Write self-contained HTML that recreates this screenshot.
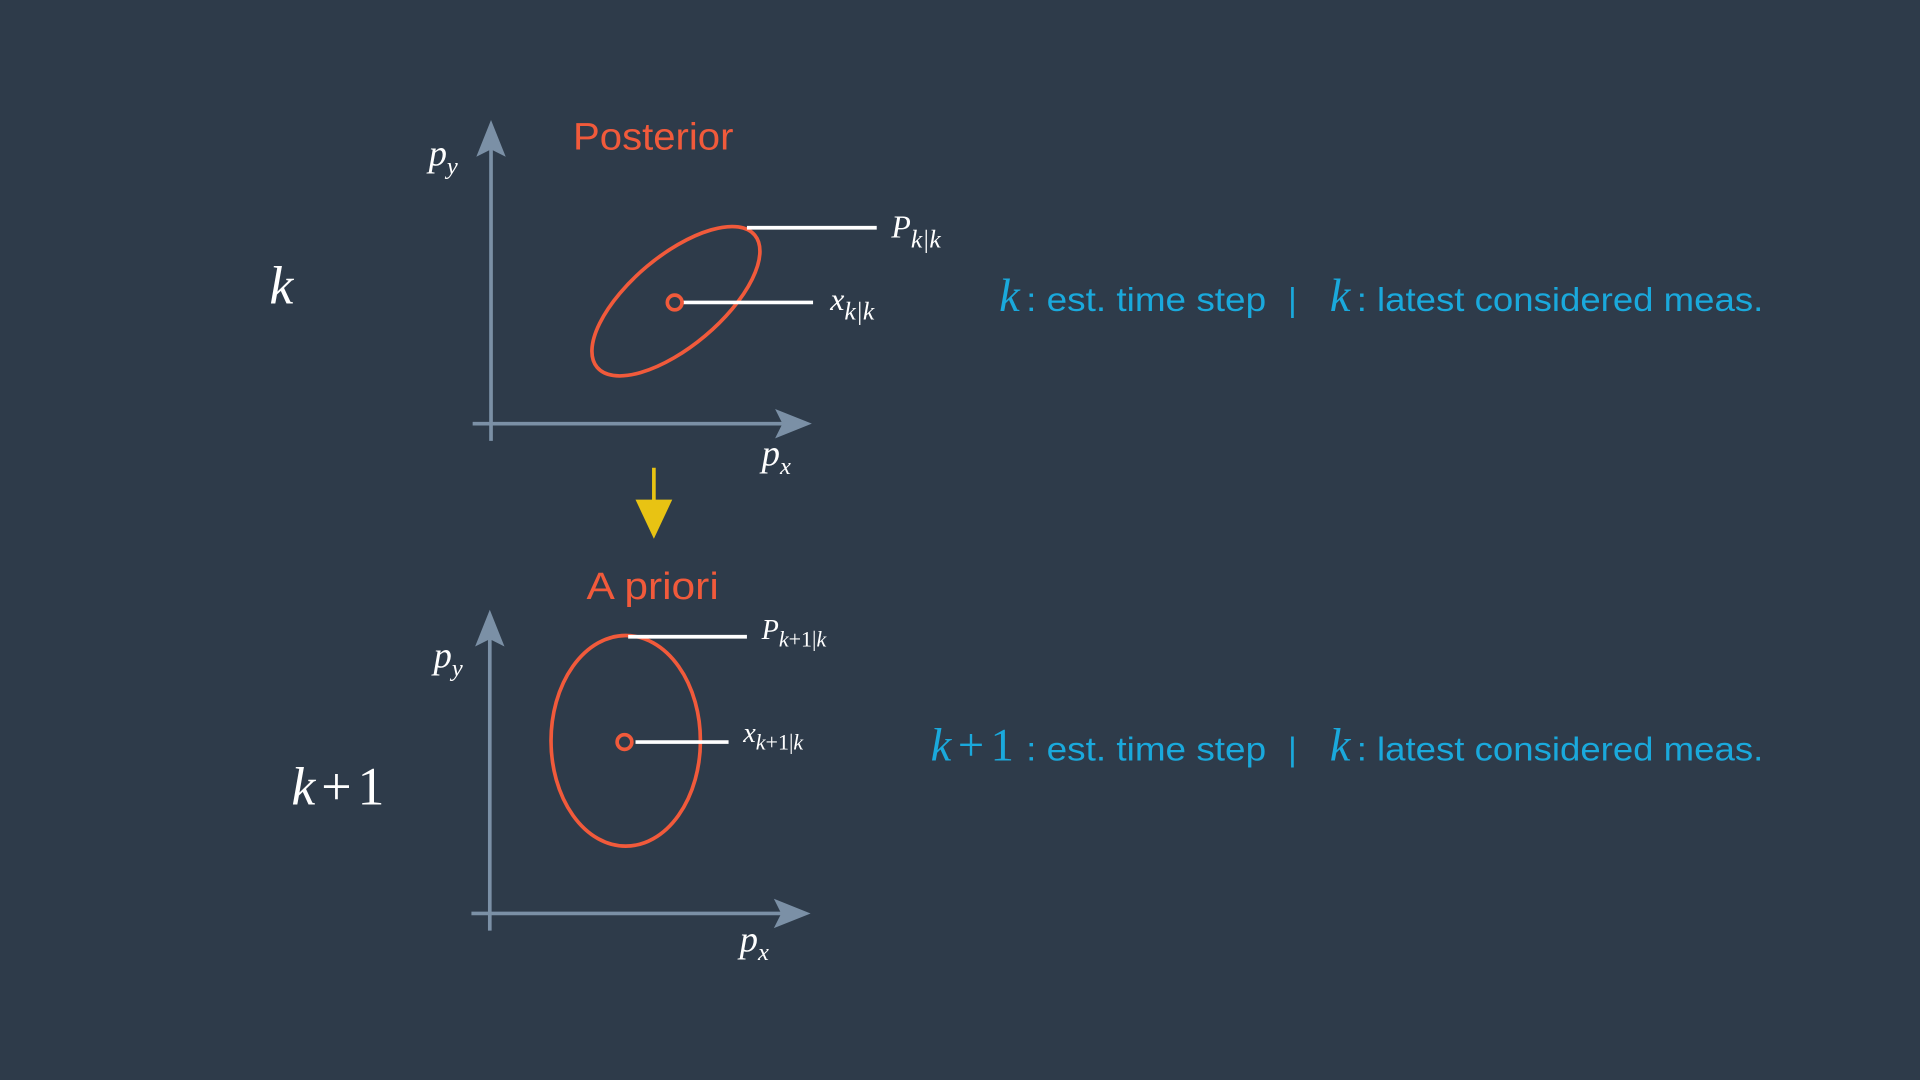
<!DOCTYPE html>
<html><head><meta charset="utf-8">
<style>
html,body{margin:0;padding:0;background:#2e3b4a;width:1920px;height:1080px;overflow:hidden}
svg{display:block}
.m{font-family:"Liberation Serif",serif;font-style:italic;fill:#fff}
.s{font-family:"Liberation Sans","DejaVu Sans",sans-serif}
.b{fill:#1aa9dc}
</style></head><body>
<svg id="chart" width="1920" height="1080" viewBox="0 0 1568 882" xmlns="http://www.w3.org/2000/svg">
<rect width="1568" height="882" fill="#2e3b4a"/>
<g id="panels"></g>
<text class="s" x="468" y="122" font-size="31" fill="#f15a3b" textLength="131" lengthAdjust="spacingAndGlyphs">Posterior</text>
<text class="s" x="479" y="489" font-size="31" fill="#f15a3b" textLength="108" lengthAdjust="spacingAndGlyphs">A priori</text>
<text class="m" x="350" y="135" font-size="30">p<tspan font-size="20" dy="7">y</tspan></text>
<text class="m" x="622" y="380" font-size="30">p<tspan font-size="20" dy="7">x</tspan></text>
<text class="m" x="354" y="545" font-size="30">p<tspan font-size="20" dy="7">y</tspan></text>
<text class="m" x="604" y="777" font-size="30">p<tspan font-size="20" dy="7">x</tspan></text>
<text class="m" x="220" y="248" font-size="44">k</text>
<text class="m" x="238" y="657" font-size="44" textLength="76">k<tspan font-style="normal">+1</tspan></text>
<text class="m" x="728" y="194" font-size="26">P<tspan font-size="21" dy="8">k|k</tspan></text>
<text class="m" x="678" y="253" font-size="26">x<tspan font-size="21" dy="8">k|k</tspan></text>
<text class="m" x="622" y="522" font-size="23">P<tspan font-size="18" dy="6"><tspan>k</tspan><tspan font-style="normal">+1|</tspan><tspan>k</tspan></tspan></text>
<text class="m" x="607" y="606" font-size="23">x<tspan font-size="18" dy="6"><tspan>k</tspan><tspan font-style="normal">+1|</tspan><tspan>k</tspan></tspan></text>
<g>
<text class="m b" x="816" y="254" font-size="38">k</text>
<text class="s b" x="838" y="254" font-size="27" textLength="196" lengthAdjust="spacingAndGlyphs">: est. time step</text>
<text class="s b" x="1052" y="254" font-size="27">|</text>
<text class="m b" x="1086" y="254" font-size="38">k</text>
<text class="s b" x="1108" y="254" font-size="27" textLength="332" lengthAdjust="spacingAndGlyphs">: latest considered meas.</text>
</g>
<g>
<text class="m b" x="760" y="621" font-size="38" textLength="68">k<tspan font-style="normal">+1</tspan></text>
<text class="s b" x="838" y="621" font-size="27" textLength="196" lengthAdjust="spacingAndGlyphs">: est. time step</text>
<text class="s b" x="1052" y="621" font-size="27">|</text>
<text class="m b" x="1086" y="621" font-size="38">k</text>
<text class="s b" x="1108" y="621" font-size="27" textLength="332" lengthAdjust="spacingAndGlyphs">: latest considered meas.</text>
</g>
<line x1="534" y1="382" x2="534" y2="412" stroke="#e8c313" stroke-width="3"/>
<polygon points="519,408 549,408 534,440" fill="#e8c313"/>
<script>
const panelNames = ['posterior', 'apriori'];
const origins = [[401, 346], [400, 746]];
const ellipseCenters = [[552, 246], [511, 605]];
const ellipseRadii = [[84, 37], [61, 86]];
const ellipseRotations = [-40, 0];
const covLineY = [186, 520];
const covLineX = [[610, 716], [513, 610]];
const meanLineX = [[557, 664], [519, 595]];
const NS = 'http://www.w3.org/2000/svg';
const g = document.getElementById('panels');
function mk(tag, attrs){const e=document.createElementNS(NS,tag);for(const k in attrs)e.setAttribute(k,attrs[k]);g.appendChild(e);return e;}
panelNames.forEach((n,i)=>{
  const [ox,oy]=origins[i];
  const ax='#7b90a6';
  let e=mk('line',{x1:ox,y1:oy+14,x2:ox,y2:oy-235,stroke:ax,'stroke-width':3});
  
  
  e=mk('polygon',{points:`${ox},${oy-248} ${ox+12},${oy-218} ${ox},${oy-224} ${ox-12},${oy-218}`,fill:ax});
  
  
  e=mk('line',{x1:ox-15,y1:oy,x2:ox+245,y2:oy,stroke:ax,'stroke-width':3});
  
  
  e=mk('polygon',{points:`${ox+262},${oy} ${ox+232},${oy-12} ${ox+238},${oy} ${ox+232},${oy+12}`,fill:ax});
  
  
  const [cx,cy]=ellipseCenters[i];const [rx,ry]=ellipseRadii[i];
  e=mk('ellipse',{cx:cx,cy:cy,rx:rx,ry:ry,fill:'none',stroke:'#f15a3b','stroke-width':3,transform:`rotate(${ellipseRotations[i]} ${cx} ${cy})`});
  
  
  e=mk('line',{x1:covLineX[i][0],y1:covLineY[i],x2:covLineX[i][1],y2:covLineY[i],stroke:'#fff','stroke-width':3});
  
  
  e=mk('line',{x1:meanLineX[i][0],y1:cy+1,x2:meanLineX[i][1],y2:cy+1,stroke:'#fff','stroke-width':3});
  
  
  e=mk('circle',{cx:cx-1,cy:cy+1,r:6,fill:'none',stroke:'#f15a3b','stroke-width':3});
  
  
});
</script>
</svg>
</body></html>
